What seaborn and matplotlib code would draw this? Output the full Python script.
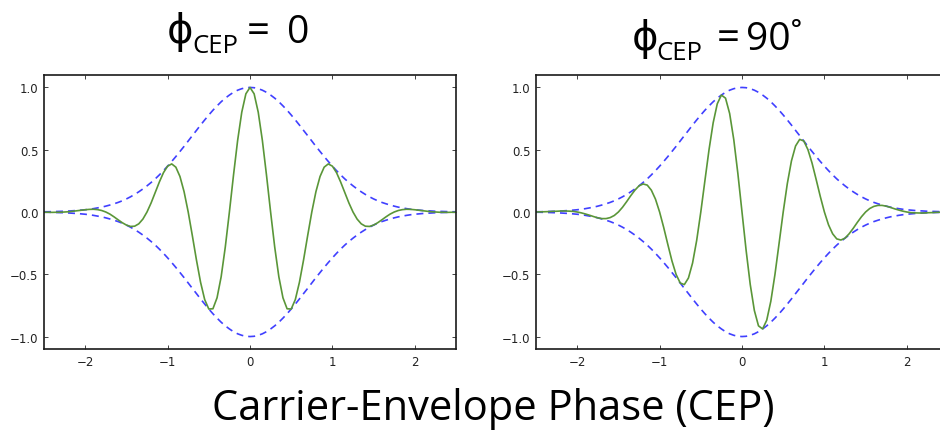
import numpy as np
import pandas as pd
import matplotlib
matplotlib.use("Agg")
import matplotlib.pyplot as plt
import seaborn as sns

# ---- data (x from -2.5 to 2.5, step 0.05) ----
x_vals = np.round(np.arange(-50, 51) * 0.05, 2)

envelope = [
    0.002, 0.002, 0.003, 0.004, 0.005, 0.006, 0.008, 0.010, 0.012, 0.015,
    0.018, 0.022, 0.027, 0.033, 0.039, 0.047, 0.056, 0.066, 0.077, 0.090,
    0.105, 0.122, 0.141, 0.162, 0.185, 0.210, 0.237, 0.266, 0.298, 0.332,
    0.368, 0.406, 0.445, 0.486, 0.527, 0.570, 0.613, 0.655, 0.698, 0.739,
    0.779, 0.817, 0.852, 0.885, 0.914, 0.939, 0.961, 0.978, 0.990, 0.998,
    1.000,
    0.998, 0.990, 0.978, 0.961, 0.939, 0.914, 0.885, 0.852, 0.817, 0.779,
    0.739, 0.698, 0.655, 0.613, 0.570, 0.527, 0.486, 0.445, 0.406, 0.368,
    0.332, 0.298, 0.266, 0.237, 0.210, 0.185, 0.162, 0.141, 0.122, 0.105,
    0.090, 0.077, 0.066, 0.056, 0.047, 0.039, 0.033, 0.027, 0.022, 0.018,
    0.015, 0.012, 0.010, 0.008, 0.006, 0.005, 0.004, 0.003, 0.002, 0.002,
]

field_cep0 = [
    -0.002, -0.002, -0.003, -0.002, -0.002, 0.000, 0.002, 0.006, 0.010, 0.014,
    0.018, 0.021, 0.022, 0.019, 0.012, 0.000, -0.017, -0.039, -0.063, -0.086,
    -0.105, -0.116, -0.114, -0.095, -0.057, 0.000, 0.073, 0.157, 0.241, 0.316,
    0.368, 0.386, 0.360, 0.285, 0.163, 0.000, -0.189, -0.385, -0.564, -0.703,
    -0.779, -0.777, -0.689, -0.520, -0.282, 0.000, 0.297, 0.575, 0.801, 0.949,
    1.000,
    0.949, 0.801, 0.575, 0.297, 0.000, -0.282, -0.520, -0.689, -0.777, -0.779,
    -0.703, -0.564, -0.385, -0.189, 0.000, 0.163, 0.285, 0.360, 0.386, 0.368,
    0.316, 0.241, 0.157, 0.073, 0.000, -0.057, -0.095, -0.114, -0.116, -0.105,
    -0.086, -0.063, -0.039, -0.017, 0.000, 0.012, 0.019, 0.022, 0.021, 0.018,
    0.014, 0.010, 0.006, 0.002, 0.000, -0.002, -0.002, -0.003, -0.002, -0.002,
]

field_cep90 = [
    0.000, 0.001, 0.002, 0.003, 0.005, 0.006, 0.008, 0.008, 0.007, 0.005,
    0.000, -0.007, -0.016, -0.026, -0.037, -0.047, -0.053, -0.053, -0.045, -0.028,
    0.000, 0.038, 0.083, 0.131, 0.175, 0.210, 0.225, 0.216, 0.175, 0.103,
    0.000, -0.125, -0.261, -0.393, -0.501, -0.570, -0.583, -0.530, -0.410, -0.228,
    0.000, 0.252, 0.501, 0.716, 0.869, 0.939, 0.914, 0.791, 0.582, 0.308,
    0.000,
    -0.308, -0.582, -0.791, -0.914, -0.939, -0.869, -0.716, -0.501, -0.252, 0.000,
    0.228, 0.410, 0.530, 0.583, 0.570, 0.501, 0.393, 0.261, 0.125, 0.000,
    -0.103, -0.175, -0.216, -0.225, -0.210, -0.175, -0.131, -0.083, -0.038, 0.000,
    0.028, 0.045, 0.053, 0.053, 0.047, 0.037, 0.026, 0.016, 0.007, 0.000,
    -0.005, -0.007, -0.008, -0.008, -0.006, -0.005, -0.003, -0.002, -0.001, 0.000,
]

x_ticks = [-2, -1, 0, 1, 2]
y_ticks = [-1.0, -0.5, 0.0, 0.5, 1.0]
xlabel = "Carrier-Envelope Phase (CEP)"
titles = [("ϕ", "CEP", "=", "0"), ("ϕ", "CEP", "=", "90˚")]

df = pd.DataFrame({
    "x": x_vals,
    "env_up": envelope,
    "env_dn": [-v for v in envelope],
    "cep0": field_cep0,
    "cep90": field_cep90,
})

# ---- style ----
sns.set_style("ticks")
plt.rcParams.update({
    "font.family": ["DejaVu Sans"],
    "text.color": "black",
    "xtick.direction": "in",
    "ytick.direction": "in",
    "xtick.top": True,
    "ytick.right": True,
    "xtick.major.size": 3,
    "ytick.major.size": 3,
    "xtick.major.width": 0.6,
    "ytick.major.width": 0.6,
    "xtick.color": "#222222",
    "ytick.color": "#222222",
    "axes.edgecolor": "#1a1a1a",
    "axes.linewidth": 1.2,
})

W, H = 940, 431
fig = plt.figure(figsize=(W / 100, H / 100), dpi=100)
ax1 = fig.add_axes([44 / W, 1 - 350 / H, 412 / W, 274 / H])
ax2 = fig.add_axes([536 / W, 1 - 350 / H, 412 / W, 274 / H])

green = "#5a9638"
blue = "#4040ff"
dash = (0, (4.2, 3.0))

for ax, col in [(ax1, "cep0"), (ax2, "cep90")]:
    sns.lineplot(data=df, x="x", y="env_up", ax=ax, color=blue, lw=1.2,
                 linestyle=dash, estimator=None, sort=False)
    sns.lineplot(data=df, x="x", y="env_dn", ax=ax, color=blue, lw=1.2,
                 linestyle=dash, estimator=None, sort=False)
    sns.lineplot(data=df, x="x", y=col, ax=ax, color=green, lw=1.2,
                 estimator=None, sort=False)
    ax.set_xlim(-2.5, 2.5)
    ax.set_ylim(-1.1, 1.1)
    ax.set_xticks(x_ticks)
    ax.set_yticks(y_ticks)
    ax.set_xticklabels([f"{v:d}".replace("-", "\u2212") for v in x_ticks])
    ax.set_yticklabels([f"{v:.1f}".replace("-", "\u2212") for v in y_ticks])
    ax.tick_params(labelsize=8.5, pad=4, labelcolor="#222222")
    ax.set_xlabel("")
    ax.set_ylabel("")
    for s in ax.spines.values():
        s.set_visible(True)

# ---- titles (phi with subscript CEP) ----
tfont = ["Open Sans", "DejaVu Sans"]
title_pos = [(167, 192, 258, 287, 43), (632, 656, 728, 746, 50)]
for (sym, sub, eq, val), (xs, xsub, xeq, xv, base) in zip(titles, title_pos):
    fig.text(xs / W, 1 - base / H, sym, fontsize=29, family=tfont,
             va="baseline", ha="left", color="black")
    fig.text(xsub / W, 1 - (base + 10) / H, sub, fontsize=18.5, family=tfont,
             va="baseline", ha="left", color="black")
    fig.text(xeq / W, 1 - base / H, eq, fontsize=29, family=tfont,
             va="baseline", ha="center", color="black")
    fig.text(xv / W, 1 - base / H, val, fontsize=28, family=tfont,
             va="baseline", ha="left", color="black")

fig.text(493.5 / W, 1 - 420 / H, xlabel, fontsize=30, family=tfont,
         ha="center", va="baseline", color="black")

fig.savefig("out.png", dpi=100)
